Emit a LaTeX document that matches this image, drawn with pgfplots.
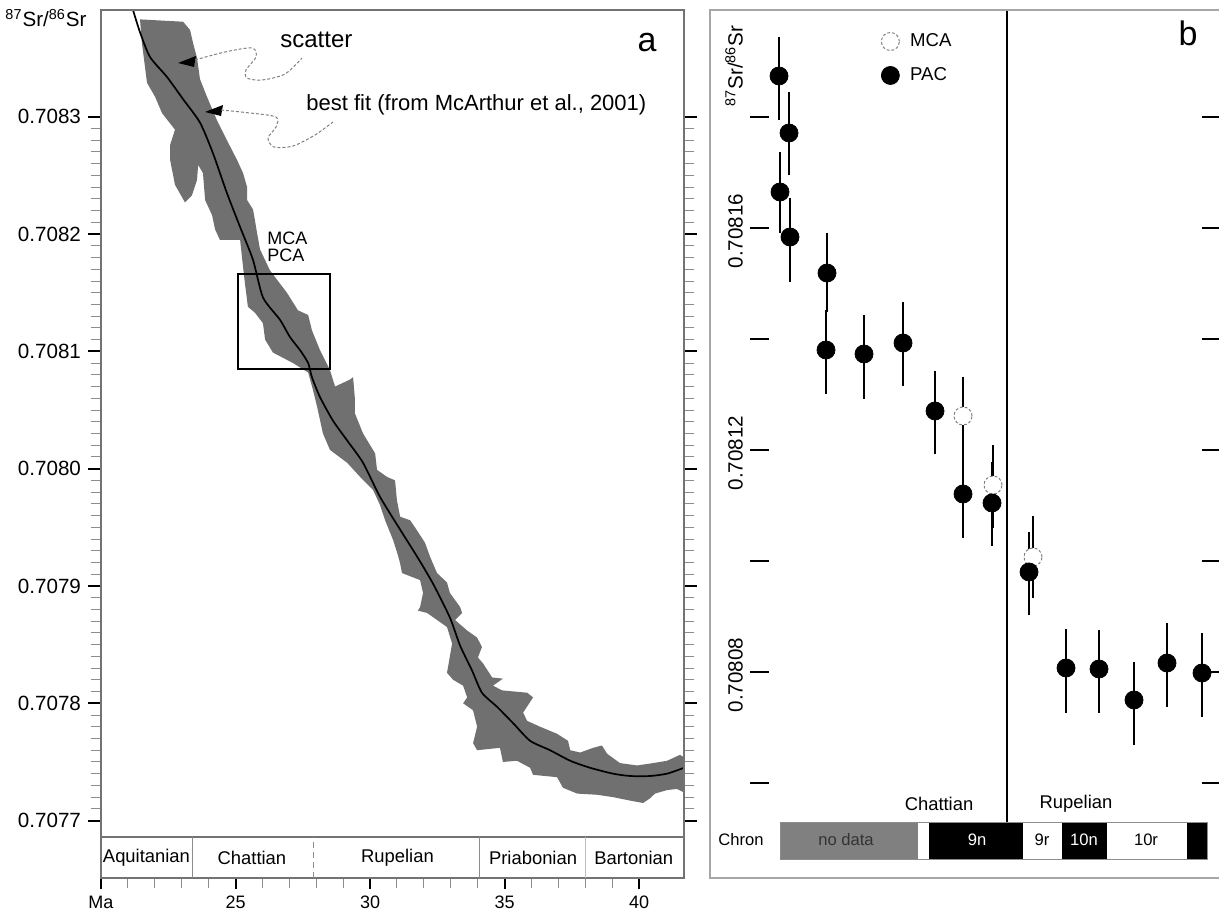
\documentclass[border=0pt]{standalone}
\usepackage{pgfplots}
\pgfplotsset{compat=1.18}
\usepackage{fontspec}
\setmainfont{Liberation Sans}
\definecolor{band}{RGB}{112,112,112}
\definecolor{nodata}{RGB}{128,128,128}
\newcommand{\fs}[1]{\fontsize{#1}{#1}\selectfont}
\begin{document}
\begin{tikzpicture}
\useasboundingbox (0,0) rectangle (609.5pt,458pt);

% ---------------- panel a : Sr isotope curve ----------------
\begin{axis}[
  at={(50.5pt,39.5pt)}, anchor=south west,
  scale only axis, width=291.5pt, height=413.5pt,
  xmin=20, xmax=41.67, ymin=0.707686, ymax=0.708391,
  xtick=\empty,
  ytick={0.7077,0.7078,0.7079,0.7080,0.7081,0.7082,0.7083},
  yticklabels={0.7077,0.7078,0.7079,0.7080,0.7081,0.7082,0.7083},
  minor y tick num=9,
  ytick pos=both, yticklabel pos=left, tick align=outside,
  major tick length=6.5pt, minor tick length=5pt,
  major tick style={black, line width=1pt},
  minor tick style={black!45, line width=0.45pt},
  axis line style={black!55, line width=0.6pt},
  yticklabel style={font=\fs{10.3}},
  axis on top,
]
% scatter envelope (Ma, 87Sr/86Sr)
\addplot[fill=band, draw=none] table {
x y
21.45 0.708383
23.05 0.708381
23.31 0.708374
23.42 0.708363
23.57 0.708350
23.68 0.708332
23.94 0.708317
24.31 0.708297
24.68 0.708280
25.06 0.708263
25.28 0.708252
25.43 0.708240
25.43 0.708229
25.65 0.708221
25.72 0.708212
25.80 0.708201
25.91 0.708187
26.28 0.708169
26.91 0.708150
27.32 0.708135
27.70 0.708131
27.84 0.708118
28.14 0.708101
28.51 0.708084
28.70 0.708070
29.26 0.708076
29.37 0.708078
29.44 0.708059
29.44 0.708047
29.74 0.708030
30.19 0.708013
30.26 0.707999
30.63 0.707993
30.93 0.707990
31.00 0.707973
31.12 0.707959
31.49 0.707956
31.67 0.707950
32.04 0.707937
32.23 0.707925
32.49 0.707911
32.86 0.707903
32.97 0.707894
33.35 0.707882
33.42 0.707877
33.16 0.707871
33.61 0.707862
33.98 0.707856
34.16 0.707848
34.01 0.707839
34.20 0.707834
34.54 0.707822
34.94 0.707821
34.57 0.707815
34.91 0.707811
35.84 0.707809
36.06 0.707805
35.69 0.707792
35.84 0.707785
36.32 0.707780
36.95 0.707774
37.36 0.707768
37.44 0.707760
37.81 0.707758
38.29 0.707762
38.62 0.707764
38.81 0.707757
39.29 0.707749
39.93 0.707747
40.52 0.707749
41.04 0.707751
41.52 0.707756
41.67 0.707754
41.67 0.707724
41.41 0.707727
41.04 0.707726
40.59 0.707723
40.41 0.707719
40.15 0.707715
39.67 0.707717
39.03 0.707720
38.44 0.707722
37.70 0.707723
37.17 0.707728
36.95 0.707737
36.06 0.707739
35.95 0.707745
35.46 0.707751
34.94 0.707750
34.83 0.707762
33.98 0.707760
33.83 0.707766
33.98 0.707780
33.83 0.707794
33.46 0.707800
33.61 0.707805
33.46 0.707815
33.09 0.707820
32.86 0.707826
32.90 0.707831
33.05 0.707851
32.86 0.707865
32.12 0.707877
31.78 0.707879
31.86 0.707882
31.97 0.707894
31.86 0.707905
31.19 0.707911
31.12 0.707919
31.04 0.707926
30.86 0.707939
30.56 0.707956
30.37 0.707969
30.11 0.707982
29.63 0.707993
29.15 0.708005
28.51 0.708016
28.25 0.708030
28.03 0.708053
27.88 0.708067
27.70 0.708082
27.14 0.708090
26.39 0.708099
26.10 0.708110
26.02 0.708124
25.72 0.708133
25.46 0.708138
25.35 0.708158
25.28 0.708172
25.17 0.708195
24.42 0.708195
24.24 0.708204
24.13 0.708216
23.87 0.708229
23.79 0.708252
23.61 0.708259
23.57 0.708246
23.38 0.708233
23.12 0.708227
22.75 0.708242
22.57 0.708263
22.57 0.708276
22.75 0.708289
22.27 0.708303
22.01 0.708317
21.71 0.708329
21.52 0.708363
} -- cycle;
% best fit (McArthur et al., 2001)
\addplot[black, line width=0.85pt, smooth, tension=0.4] table {
x y
21.19 0.708391
21.45 0.708372
21.82 0.708351
22.45 0.708334
23.05 0.708315
23.68 0.708295
24.16 0.708269
24.68 0.708235
25.17 0.708206
25.65 0.708178
26.02 0.708146
26.65 0.708127
27.03 0.708112
27.40 0.708101
27.70 0.708090
27.84 0.708078
28.14 0.708061
28.62 0.708041
29.15 0.708024
29.74 0.708005
30.37 0.707976
31.12 0.707948
31.75 0.707925
32.34 0.707902
32.97 0.707873
33.35 0.707849
33.79 0.707828
34.16 0.707809
34.72 0.707797
35.32 0.707783
35.95 0.707768
36.69 0.707760
37.44 0.707751
38.18 0.707745
39.03 0.707740
39.67 0.707738
40.41 0.707738
41.04 0.707740
41.67 0.707745
};
\draw[black, line width=0.8pt] (axis cs:25.09,0.708166) rectangle (axis cs:28.51,0.708085);
\end{axis}

% ---------------- panel a : stage bar and age axis ----------------
\begin{axis}[
  at={(50.5pt,19pt)}, anchor=south west,
  scale only axis, width=291.5pt, height=20.5pt,
  xmin=20, xmax=41.67, ymin=0, ymax=1,
  ytick=\empty,
  xtick={20,25,30,35,40}, xticklabels={Ma,25,30,35,40},
  minor x tick num=4,
  xtick pos=bottom, tick align=outside,
  major tick length=5.5pt, minor tick length=5pt,
  major tick style={black, line width=1pt},
  minor tick style={black!45, line width=0.5pt},
  axis line style={black!55, line width=0.6pt},
  xticklabel style={font=\fs{9}},
  clip=false,
]
\draw[black!45] (axis cs:23.4,0) -- (axis cs:23.4,1);
\draw[black!45, dash pattern=on 3pt off 2pt] (axis cs:27.9,0) -- (axis cs:27.9,1);
\draw[black!45] (axis cs:34.05,0) -- (axis cs:34.05,1);
\draw[black!25] (axis cs:38.0,0) -- (axis cs:38.0,1);
\node[font=\fs{9.2}] at (axis cs:21.69,0.5) {Aquitanian};
\node[font=\fs{9.2}] at (axis cs:25.61,0.5) {Chattian};
\node[font=\fs{9.2}] at (axis cs:31.02,0.5) {Rupelian};
\node[font=\fs{9.2}] at (axis cs:36.06,0.5) {Priabonian};
\node[font=\fs{9.2}] at (axis cs:39.80,0.5) {Bartonian};
\end{axis}

% ---------------- panel b ----------------
% y = (87Sr/86Sr - 0.708) x 10^5
\begin{axis}[
  at={(375pt,19pt)}, anchor=south west,
  scale only axis, width=235.5pt, height=434pt,
  xmin=0, xmax=47.1, ymin=4.288, ymax=19.928,
  xtick=\empty,
  ytick={6,8,10,12,14,16,18},
  yticklabels={,0.70808,,0.70812,,0.70816,},
  ytick pos=both, yticklabel pos=left, tick align=inside,
  major tick length=9.5pt,
  major tick style={black, line width=1.1pt},
  axis line style={draw=none},
  yticklabel style={font=\fs{10.3}, rotate=90, anchor=south, xshift=-1.5pt},
  clip=false,
  legend style={at={(0.277,0.978)}, anchor=north west, draw=none, fill=none,
    font=\fs{9.3}, row sep=5pt, inner sep=0pt},
  legend cell align=left,
]
\addplot[only marks, mark=*, mark size=4.5pt,
  mark options={fill=white, draw=black!50, line width=0.5pt, dash pattern=on 1.4pt off 1pt},
  error bars/.cd, y dir=both, y explicit, error mark=none,
  error bar style={black, line width=1pt, solid},
  /pgfplots/legend image code/.code={\draw[fill=white, draw=black!50, line width=0.5pt, dash pattern=on 1.4pt off 1pt] (0.25cm,0cm) circle (4.5pt); \path (14.8pt,0pt);}]
  table[x=x, y=y, y error plus=ep, y error minus=em] {
x y ep em
21.3 12.613 0.703 0.703
24.3 11.369 0.721 0.775
28.3 10.072 0.739 0.739
};
\addlegendentry{MCA}
\addplot[only marks, mark=*, mark size=4.5pt, mark options={fill=black, draw=black},
  error bars/.cd, y dir=both, y explicit, error mark=none,
  error bar style={black, line width=1pt},
  /pgfplots/legend image code/.code={\fill[black] (0.25cm,0cm) circle (4.5pt); \path (14.8pt,0pt);}]
  table[x=x, y=y, y error plus=ep, y error minus=em] {
x y ep em
2.9 18.739 0.703 0.793
3.9 17.712 0.739 0.757
3.0 16.649 0.721 0.739
4.0 15.838 0.703 0.811
7.7 15.189 0.721 0.703
7.6 13.802 0.721 0.793
11.4 13.730 0.703 0.811
15.3 13.928 0.739 0.775
18.5 12.703 0.721 0.775
21.3 11.207 0.703 0.793
24.2 11.045 0.739 0.775
27.9 9.802 0.721 0.775
31.6 8.072 0.703 0.811
34.9 8.054 0.703 0.793
38.4 7.496 0.685 0.811
41.7 8.162 0.721 0.793
45.2 7.982 0.721 0.793
};
\addlegendentry{PAC}
\draw[black, line width=1pt] (axis cs:25.7,19.928) -- (axis cs:25.7,5.297);
% chron bar
\fill[nodata] (axis cs:3.0,4.613) rectangle (axis cs:16.8,5.297);
\fill[black] (axis cs:17.9,4.613) rectangle (axis cs:27.3,5.297);
\fill[black] (axis cs:31.2,4.613) rectangle (axis cs:35.7,5.297);
\fill[black] (axis cs:43.7,4.613) rectangle (axis cs:45.7,5.297);
\draw[black!45, line width=0.5pt] (axis cs:3.0,4.613) rectangle (axis cs:45.7,5.297);
\node[font=\fs{8.3}, text=black!80] at (axis cs:9.6,4.973) {no data};
\node[font=\fs{8.3}, text=white] at (axis cs:22.7,4.973) {9n};
\node[font=\fs{8.3}] at (axis cs:29.2,4.973) {9r};
\node[font=\fs{8.3}, text=white] at (axis cs:33.4,4.973) {10n};
\node[font=\fs{8.3}] at (axis cs:39.6,4.973) {10r};
\node[font=\fs{8.3}] at (axis cs:-0.9,4.973) {Chron};
\node[font=\fs{9.2}] at (axis cs:18.9,5.622) {Chattian};
\node[font=\fs{9.2}] at (axis cs:32.6,5.622) {Rupelian};
\end{axis}

% ---------------- annotations (pixel grid of the figure) ----------------
\begin{scope}[x=0.5pt, y=-0.5pt, yshift=458pt]
\draw[black!35, line width=0.8pt] (1228,10) -- (710,10) -- (710,878) -- (1228,878);
\node[font=\fs{10.3}] at (46,18) {\textsuperscript{87}Sr/\textsuperscript{86}Sr};
\node[font=\fs{10.3}, rotate=90] at (734,66) {\textsuperscript{87}Sr/\textsuperscript{86}Sr};
\node[font=\fs{17}] at (647,43) {a};
\node[font=\fs{17}] at (1188,33) {b};
\node[font=\fs{12}, anchor=base west, inner sep=0pt] at (280,48) {scatter};
\node[font=\fs{11}, anchor=base west, inner sep=0pt] at (306,111) {best fit (from McArthur et al., 2001)};
\node[font=\fs{9}, anchor=base west, inner sep=0pt] at (267,245) {MCA};
\node[font=\fs{9}, anchor=base west, inner sep=0pt] at (267,262) {PCA};
\fill[black] (178,63) -- (196,56) -- (194,67) -- cycle;
\draw[black!50, dash pattern=on 1.5pt off 1pt, line width=0.5pt] plot[smooth] coordinates {(195,60) (225,52) (252,48) (256,57) (246,70) (247,78) (262,80) (285,74) (302,58)};
\fill[black] (205,112) -- (223,105) -- (221,116) -- cycle;
\draw[black!50, dash pattern=on 1.5pt off 1pt, line width=0.5pt] plot[smooth] coordinates {(221,110) (250,113) (276,117) (276,127) (268,138) (274,147) (293,146) (315,135) (333,122)};
\end{scope}
\end{tikzpicture}
\end{document}
